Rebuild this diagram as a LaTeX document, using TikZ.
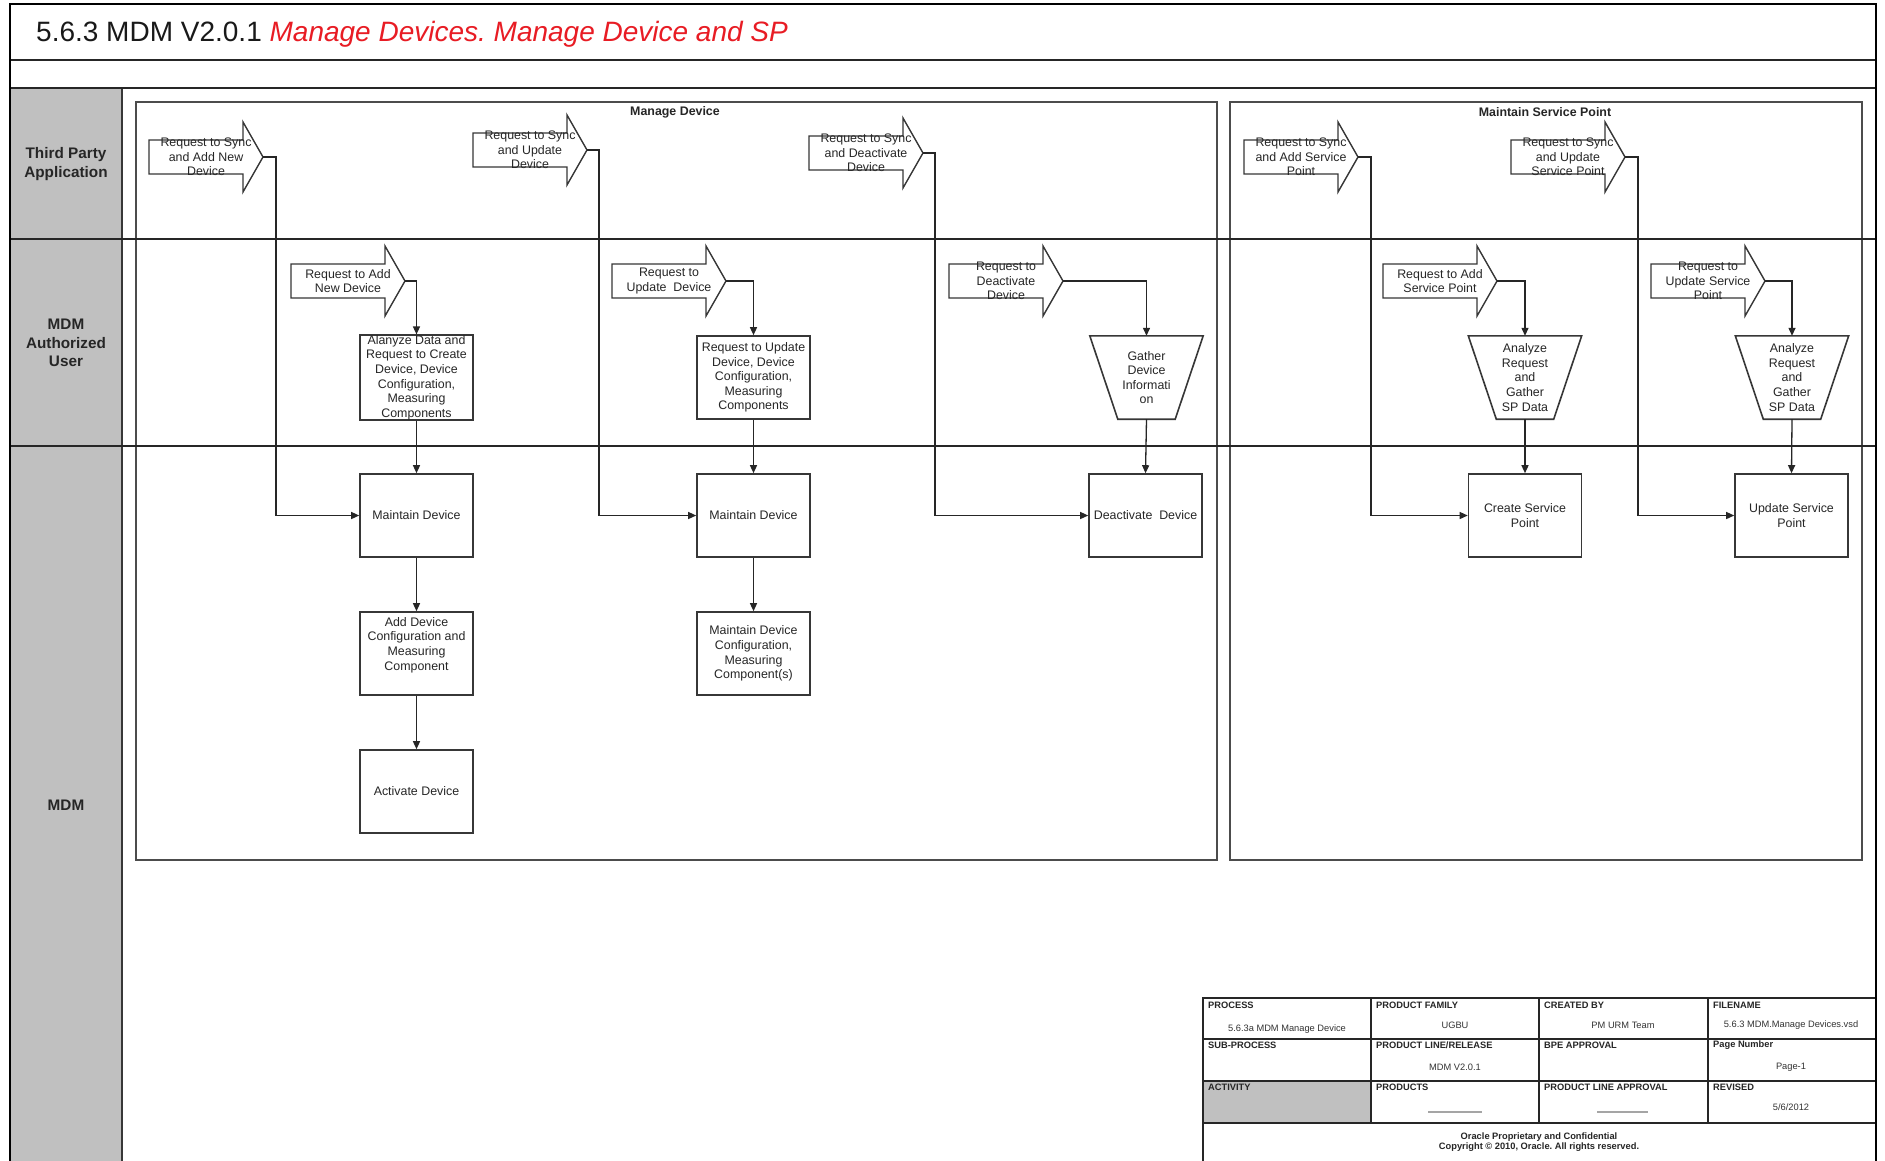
\documentclass[tikz,border=0pt]{standalone}
\usepackage{fontspec}
\setmainfont{Liberation Sans}
\usetikzlibrary{arrows.meta}
\frenchspacing
\definecolor{lanegray}{RGB}{192,192,192}
\definecolor{ored}{RGB}{232,28,36}
\definecolor{edge}{RGB}{55,55,55}
\definecolor{dashgray}{RGB}{165,165,165}
\newcommand{\evt}[4]{%
  \draw[evshape] (#2,#3-17) -- (#2+94,#3-17) -- (#2+94,#3-35) -- (#2+114,#3) -- (#2+94,#3+35) -- (#2+94,#3+17) -- (#2,#3+17) -- cycle;
  \node[evtext] (#1) at (#2+57,#3) {#4};
  \coordinate (#1-tip) at (#2+114,#3);
}
\tikzset{
  evshape/.style={draw=edge, line width=1.4pt, fill=white, line join=miter},
  evtext/.style={font=\fontsize{12.4}{14.6}\selectfont, align=center, inner sep=0pt, text=black!85},
  procbox/.style={draw=edge, line width=1.6pt, fill=white, minimum width=113pt, minimum height=83pt, inner sep=0pt, align=center, font=\fontsize{12.4}{14.6}\selectfont, text=black!85},
  trapbox/.style={minimum width=113pt, minimum height=83pt, inner sep=0pt, align=center, font=\fontsize{12.4}{14.6}\selectfont, text=black!85},
  trapline/.style={draw=edge, line width=1.6pt, fill=white, line join=miter},
  boxtext/.style={inner sep=0pt, align=center, font=\fontsize{12.4}{14.6}\selectfont, text=black!85},
  flow/.style={draw=black!85, line width=1.3pt, -{Triangle[length=8pt,width=7pt]}},
  lanelab/.style={font=\bfseries\fontsize{15.3}{18.7}\selectfont, align=center, text=black!85},
  pooltitle/.style={font=\bfseries\fontsize{12.4}{14}\selectfont, text=black!85},
  poolbox/.style={draw=black!70, line width=2.2pt, inner sep=0pt},
  hdr/.style={font=\bfseries\fontsize{9.3}{11}\selectfont, anchor=west, inner sep=0pt, text=black!85},
  val/.style={font=\fontsize{9.3}{11}\selectfont, inner sep=0pt, text=black!80},
  frame/.style={draw=black, line width=2.6pt},
  rule/.style={draw=black!85, line width=1.5pt},
  tbl/.style={draw=black!85, line width=1.5pt},
}
\begin{document}
\begin{tikzpicture}[x=1pt,y=-1pt]
\useasboundingbox (0,0) rectangle (1885,1160);
\fill[white] (0,0) rectangle (1885,1160);
% gray lane header column
\fill[lanegray] (11,88) rectangle (122,1165);
\draw[draw=edge, line width=1.5pt] (122,88) -- (122,1165);
% title
\node[anchor=base west, inner sep=0pt, font=\fontsize{28}{32}\selectfont, text=black!90] (title) at (36,41) {5.6.3 MDM V2.0.1 \textcolor{ored}{\itshape Manage Devices. Manage Device and SP}};
% pools
\node[poolbox, minimum width=1081pt, minimum height=758pt] (pool1) at (676.5,481) {};
\node[poolbox, minimum width=632pt, minimum height=758pt] (pool2) at (1546,481) {};
\node[pooltitle] (pt1) at (675,112) {Manage Device};
\node[pooltitle] (pt2) at (1545,112) {Maintain Service Point};
% horizontal rules
\draw[rule] (10,60) -- (1876,60);
\draw[rule] (10,88) -- (1876,88);
\draw[rule] (10,239) -- (1876,239);
\draw[rule] (10,446) -- (1876,446);
% outer frame
\draw[frame] (10,1165) -- (10,4) -- (1876,4) -- (1876,1165);
% lane labels
\node[lanelab] (l1) at (66,164) {Third Party\\Application};
\node[lanelab] (l2) at (66,343) {MDM\\Authorized\\User};
\node[lanelab] (l3) at (66,805) {MDM};
% event arrows
\evt{a1}{149}{157}{Request to Sync\\and Add New\\Device}
\evt{a2}{473}{150}{Request to Sync\\and Update\\Device}
\evt{a3}{809}{153}{Request to Sync\\and Deactivate\\Device}
\evt{a4}{1244}{157}{Request to Sync\\and Add Service\\Point}
\evt{a5}{1511}{157}{Request to Sync\\and Update\\Service Point}
\evt{a6}{291}{281}{Request to Add\\New Device}
\evt{a7}{612}{281}{Request to\\Update~ Device}
\evt{a8}{949}{281}{Request to\\Deactivate\\Device}
\evt{a9}{1383}{281}{Request to Add\\Service Point}
\evt{a10}{1651}{281}{Request to\\Update Service\\Point}
% MDM authorized user lane
\node[procbox] (b1) at (416.5,377.5) {Alanyze Data and\\Request to Create\\Device, Device\\Configuration,\\Measuring\\Components};
\node[procbox] (b2) at (753.5,377.5) {Request to Update\\Device, Device\\Configuration,\\Measuring\\Components};
\node[trapbox] (t1) at (1146.5,377.5) {};
\node[trapbox] (t2) at (1525,377.5) {};
\node[trapbox] (t3) at (1792,377.5) {};
\foreach \t in {t1,t2,t3}{
  \draw[trapline] (\t.north west) -- (\t.north east) -- ([xshift=-28pt]\t.south east) -- ([xshift=28pt]\t.south west) -- cycle;
}
\node[boxtext] (t1-t) at (t1.center) {Gather\\Device\\Informati\\on};
\node[boxtext] (t2-t) at (t2.center) {Analyze\\Request\\and\\Gather\\SP Data};
\node[boxtext] (t3-t) at (t3.center) {Analyze\\Request\\and\\Gather\\SP Data};
% MDM lane
\node[procbox] (md1) at (416.5,515.5) {Maintain Device};
\node[procbox] (md2) at (753.5,515.5) {Maintain Device};
\node[procbox] (dd) at (1145.5,515.5) {Deactivate~ Device};
\node[procbox] (csp) at (1525,515.5) {Create Service\\Point};
\node[procbox] (usp) at (1791.5,515.5) {Update Service\\Point};
\node[procbox] (adc) at (416.5,653.5) {};
\node[boxtext] (adc-t) at (416.5,645) {Add Device\\Configuration and\\Measuring\\Component};
\node[procbox] (mdc) at (753.5,653.5) {Maintain Device\\Configuration,\\Measuring\\Component(s)};
\node[procbox] (act) at (416.5,791.5) {Activate Device};
% connectors
\draw[flow] (a1-tip) -- ++(13,0) |- (md1.west);
\draw[flow] (a2-tip) -- ++(12,0) |- (md2.west);
\draw[flow] (a3-tip) -- ++(12,0) |- (dd.west);
\draw[flow] (a4-tip) -- ++(13,0) |- (csp.west);
\draw[flow] (a5-tip) -- ++(13,0) |- (usp.west);
\draw[flow] (a6-tip) -| (b1.north);
\draw[flow] (a7-tip) -| (b2.north);
\draw[flow] (a8-tip) -| (t1.north);
\draw[flow] (a9-tip) -| (t2.north);
\draw[flow] (a10-tip) -| (t3.north);
\draw[flow] (b1.south) -- (md1.north);
\draw[flow] (b2.south) -- (md2.north);
\draw[flow] (t1.south) -- (dd.north);
\draw[flow] (t2.south) -- (csp.north);
\draw[flow] (t3.south) -- (usp.north);
\draw[flow] (md1.south) -- (adc.north);
\draw[flow] (adc.south) -- (act.north);
\draw[flow] (md2.south) -- (mdc.north);
% footer table
\fill[white] (1203,998) rectangle (1876,1165);
\fill[lanegray] (1203,1081) rectangle (1371,1123);
\draw[tbl] (1203,1165) -- (1203,998) -- (1876,998);
\draw[tbl] (1203,1039) -- (1876,1039);
\draw[tbl] (1203,1081) -- (1876,1081);
\draw[tbl] (1203,1123) -- (1876,1123);
\draw[tbl] (1371,998) -- (1371,1123);
\draw[tbl] (1539,998) -- (1539,1123);
\draw[tbl] (1708,998) -- (1708,1123);
\draw[frame] (1876,990) -- (1876,1165);
\node[hdr] (h1) at (1208,1005) {PROCESS};
\node[hdr] (h2) at (1376,1005) {PRODUCT FAMILY};
\node[hdr] (h3) at (1544,1005) {CREATED BY};
\node[hdr] (h4) at (1713,1005) {FILENAME};
\node[val] (v1) at (1287,1029) {5.6.3a MDM Manage Device};
\node[val] (v2) at (1455,1025) {UGBU};
\node[val] (v3) at (1623,1025) {PM URM Team};
\node[val] (v4) at (1791,1025) {5.6.3 MDM.Manage Devices.vsd};
\node[hdr] (h5) at (1208,1045) {SUB-PROCESS};
\node[hdr] (h6) at (1376,1045) {PRODUCT LINE/RELEASE};
\node[hdr] (h7) at (1544,1045) {BPE APPROVAL};
\node[hdr] (h8) at (1713,1045) {Page Number};
\node[val] (v6) at (1455,1067) {MDM V2.0.1};
\node[val] (v8) at (1791,1067) {Page-1};
\node[hdr] (h9) at (1208,1087) {ACTIVITY};
\node[hdr] (h10) at (1376,1087) {PRODUCTS};
\node[hdr] (h11) at (1544,1087) {PRODUCT LINE APPROVAL};
\node[hdr] (h12) at (1713,1087) {REVISED};
\draw[dashgray, line width=1.2pt] (1428,1112) -- (1482,1112);
\draw[dashgray, line width=1.2pt] (1597,1112) -- (1648,1112);
\node[val] (v12) at (1791,1107) {5/6/2012};
\node[font=\bfseries\fontsize{9.3}{10.5}\selectfont, align=center, inner sep=0pt, text=black!85] (copy) at (1539,1142) {Oracle Proprietary and Confidential\\Copyright © 2010, Oracle. All rights reserved.};
\end{tikzpicture}
\end{document}
